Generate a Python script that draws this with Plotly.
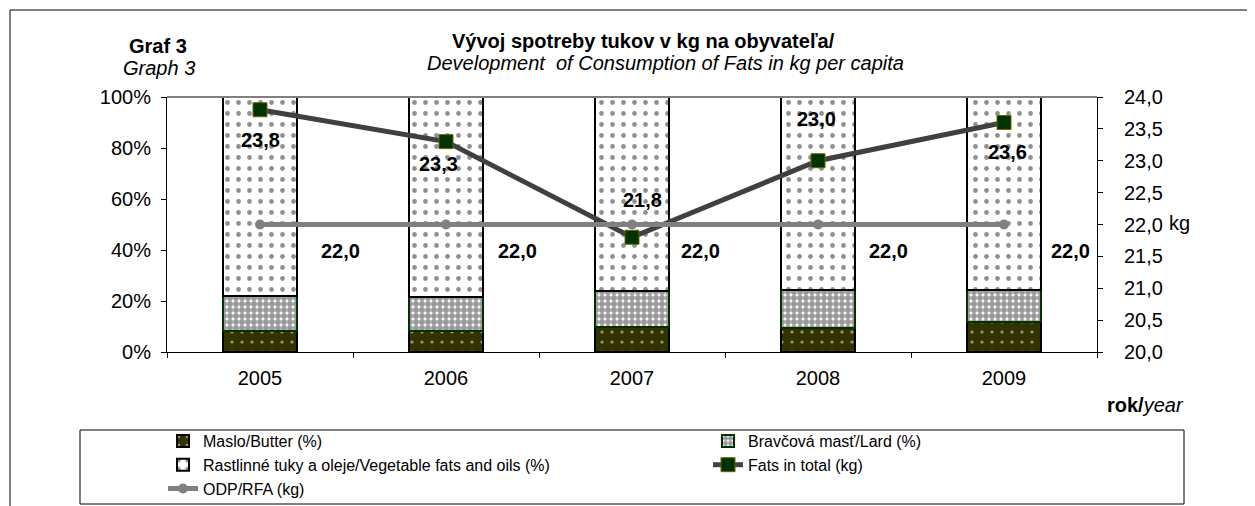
import plotly.graph_objects as go

# data
years = ["2005", "2006", "2007", "2008", "2009"]
butter_pct = [8.2, 8.4, 9.7, 9.5, 11.9]
lard_pct = [13.9, 13.3, 14.3, 14.8, 12.4]
veg_pct = [77.9, 78.3, 76.0, 75.7, 75.7]
fats_total = [23.8, 23.3, 21.8, 23.0, 23.6]
rfa_kg = [22.0, 22.0, 22.0, 22.0, 22.0]

FONT = "Liberation Sans, Arial, sans-serif"

# the page puts the figure 8px in from the window corner
OFF = 8
W, H = 1255 - OFF, 506 - OFF
# plot area in window pixels
L, R, T, B = 167, 1097, 97, 352


def px(x):
    return (x - L) / (R - L)


def py(y):
    return (B - y) / (B - T)


def fmt(v):
    return "<b>%s</b>" % f"{v:.1f}".replace(".", ",")


fig = go.Figure()

fig.add_trace(go.Bar(
    x=years, y=[v / 100 for v in butter_pct], name="Maslo/Butter (%)",
    marker=dict(color="#333300", line=dict(color="#000000", width=2),
                pattern=dict(shape=".", fgcolor="#ffffff", size=10, solidity=0.08)),
    width=0.4,
))
fig.add_trace(go.Bar(
    x=years, y=[v / 100 for v in lard_pct], name="Bravčová masť/Lard (%)",
    marker=dict(color="#ffffff", line=dict(color="#003300", width=2),
                pattern=dict(shape=".", fgcolor="#333333", size=6, solidity=0.75)),
    width=0.4,
))
fig.add_trace(go.Bar(
    x=years, y=[v / 100 for v in veg_pct], name="Rastlinné tuky a oleje/Vegetable fats and oils (%)",
    marker=dict(color="#ffffff", line=dict(color="#000000", width=2),
                pattern=dict(shape=".", fgcolor="#222222", size=11, solidity=0.15)),
    width=0.4,
))
fig.add_trace(go.Scatter(
    x=years, y=fats_total, name="Fats in total (kg)", yaxis="y2",
    mode="lines+markers",
    line=dict(color="#404040", width=5),
    marker=dict(symbol="square", size=14, color="#003300", line=dict(color="#666600", width=1)),
))
fig.add_trace(go.Scatter(
    x=years, y=rfa_kg, name="ODP/RFA (kg)", yaxis="y2",
    mode="lines+markers",
    line=dict(color="#808080", width=5),
    marker=dict(symbol="circle", size=10, color="#808080"),
))

# data labels (x given as category index)
fats_shift = [(0, -30), (-8, -22), (10, 37), (-2, 42), (3, -29)]
for i, (v, (dx, dy)) in enumerate(zip(fats_total, fats_shift)):
    fig.add_annotation(x=i, y=v, xref="x", yref="y2", text=fmt(v),
                       showarrow=False, xshift=dx, yshift=dy,
                       font=dict(family=FONT, size=20, color="#000000"))
rfa_shift = [80, 71, 68, 70, 66]
for i, (v, dx) in enumerate(zip(rfa_kg, rfa_shift)):
    fig.add_annotation(x=i, y=v, xref="x", yref="y2", text=fmt(v),
                       showarrow=False, xshift=dx, yshift=-26,
                       font=dict(family=FONT, size=20, color="#000000"))

# titles and labels
txt = [
    ("<b>Graf 3</b>", 158, 46),
    ("<i>Graph 3</i>", 159, 68),
    ("<b>Vývoj spotreby tukov v kg na obyvateľa/</b>", 643, 41),
    ("<i>Development  of Consumption of Fats in kg per capita</i>", 665, 63),
    ("kg", 1179, 223),
]
for t, x, y in txt:
    fig.add_annotation(x=px(x), y=py(y), xref="paper", yref="paper", text=t, showarrow=False,
                       xanchor="center", yanchor="middle",
                       font=dict(family=FONT, size=20, color="#000000"))
fig.add_annotation(x=px(1186), y=py(405), xref="paper", yref="paper",
                   text="<b>rok/</b><i>year</i>", showarrow=False,
                   xanchor="right", yanchor="middle",
                   font=dict(family=FONT, size=20, color="#000000"))

# frame, plot-area top border, legend box
fig.add_shape(type="rect", xref="paper", yref="paper",
              x0=px(10), y0=py(10), x1=px(1300), y1=py(600),
              line=dict(color="#000000", width=1), layer="below")
fig.add_shape(type="line", xref="paper", yref="paper",
              x0=0, y0=1, x1=1, y1=1, line=dict(color="#808080", width=2))
fig.add_shape(type="rect", xref="paper", yref="paper",
              x0=px(80), y0=py(430), x1=px(1184), y1=py(504),
              line=dict(color="#000000", width=1))

fig.update_layout(
    width=W, height=H, autosize=False,
    margin=dict(l=L - OFF, r=W - (R - OFF), t=T - OFF, b=H - (B - OFF), autoexpand=False),
    paper_bgcolor="#ffffff", plot_bgcolor="#ffffff",
    barmode="stack", separators=",.",
    font=dict(family=FONT, size=20, color="#000000"),
    showlegend=True,
    legend=dict(orientation="h", traceorder="normal", x=px(163), y=py(424),
                xanchor="left", yanchor="top", entrywidth=500, entrywidthmode="pixels",
                font=dict(family=FONT, size=16), bgcolor="rgba(0,0,0,0)"),
    xaxis=dict(type="category", range=[-0.5, 4.5], tickson="boundaries", ticks="outside",
               ticklen=5, tickcolor="#000000", showline=True, linecolor="#000000", linewidth=1,
               showgrid=False, zeroline=False, tickfont=dict(size=20), ticklabelstandoff=8),
    yaxis=dict(range=[0, 1], dtick=0.2, tickformat=".0%", ticks="outside", ticklen=5,
               tickcolor="#000000", showline=True, linecolor="#000000", linewidth=1,
               showgrid=False, zeroline=False, tickfont=dict(size=20), ticklabelstandoff=6),
    yaxis2=dict(range=[20, 24], dtick=0.5, tickformat=".1f", overlaying="y", side="right",
                ticks="outside", ticklen=5, tickcolor="#000000", showline=True,
                linecolor="#000000", linewidth=1, showgrid=False, zeroline=False,
                tickfont=dict(size=20), ticklabelstandoff=17),
)

fig.write_html("out.html")
